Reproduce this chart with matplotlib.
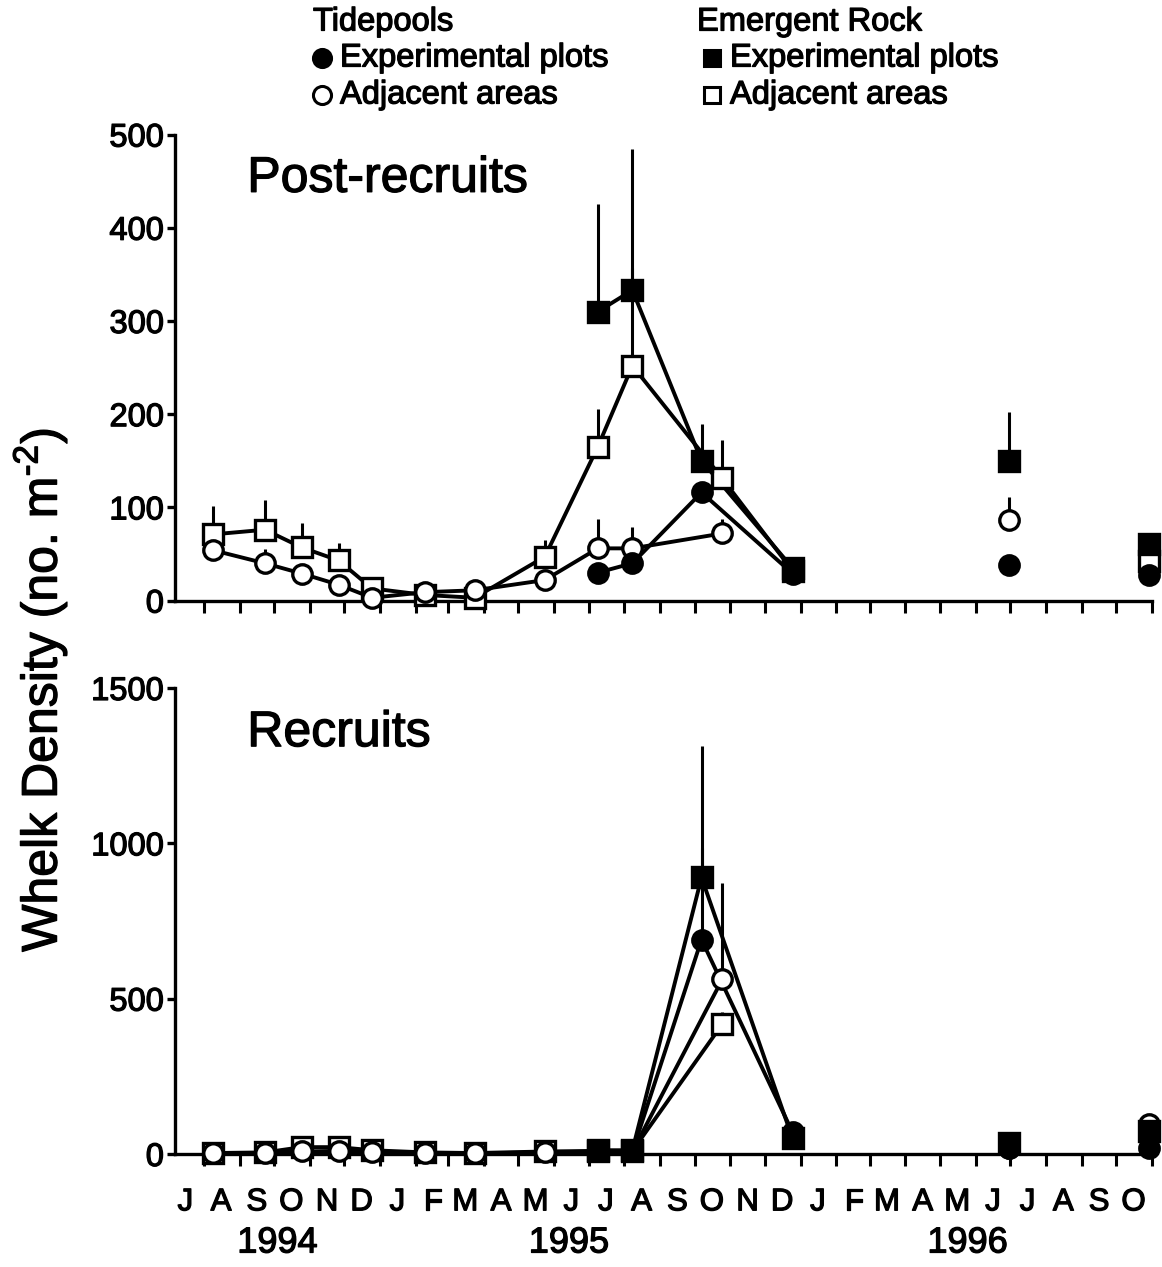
import numpy as np
import matplotlib
matplotlib.use('Agg')
from matplotlib import pyplot as plt
from matplotlib.lines import Line2D
from matplotlib.text import Text
import matplotlib.patheffects as pe
import matplotlib.dates as mdates
from datetime import datetime as dt

plt.rcParams['font.family'] = ['Liberation Sans', 'DejaVu Sans']
plt.rcParams['mathtext.fontset'] = 'custom'
plt.rcParams['mathtext.rm'] = 'Liberation Sans'

# Sampling dates (adjacent areas were sampled through the whole period,
# experimental plots only from July 1995)
adj_dates = [dt(1994, 8, 9), dt(1994, 9, 23), dt(1994, 10, 25), dt(1994, 11, 26),
             dt(1994, 12, 25), dt(1995, 2, 9), dt(1995, 3, 24), dt(1995, 5, 24),
             dt(1995, 7, 9), dt(1995, 8, 8), dt(1995, 10, 25), dt(1995, 12, 25),
             dt(1996, 6, 30), dt(1996, 10, 29)]
exp_dates = [dt(1995, 7, 9), dt(1995, 8, 8), dt(1995, 10, 7), dt(1995, 12, 25),
             dt(1996, 6, 30), dt(1996, 10, 29)]
nan = np.nan

# Post-recruits (no. m-2): mean and upper error bar end
post_rock_adj = [71, 76, 57, 43, 13, 6, 3, 47, 165, 252, 131, 32, nan, 42]
post_rock_adj_top = [101, 108, 83, 62, nan, nan, nan, 65, 206, 357, 172, nan, nan, nan]
post_pool_adj = [54, 40, 29, 17, 3, 9, 11, 22, 56, 56, 72, nan, 86, nan]
post_pool_adj_top = [nan, 55, nan, nan, nan, nan, nan, nan, 88, 79, 88, nan, 111, nan]
post_rock_exp = [310, 333, 150, 35, 150, 61]
post_rock_exp_top = [426, 485, 189, nan, 202, nan]
post_pool_exp = [30, 40, 116, 29, 38, 27]
post_pool_exp_top = [nan, nan, nan, nan, nan, nan]

# Recruits (no. m-2)
rec_rock_adj = [3, 5, 22, 22, 12, 5, 3, 8, 10, 10, 418, nan, nan, nan]
rec_rock_adj_top = [nan, nan, nan, nan, nan, nan, nan, nan, nan, nan, 457, nan, nan, nan]
rec_pool_adj = [2, 3, 8, 10, 5, 3, 2, 5, 8, 8, 562, nan, 20, 95]
rec_pool_adj_top = [nan, nan, nan, nan, nan, nan, nan, nan, nan, nan, 873, nan, nan, nan]
rec_rock_exp = [12, 12, 890, 50, 35, 75]
rec_rock_exp_top = [nan, nan, 1312, nan, nan, nan]
rec_pool_exp = [8, 8, 690, 70, 20, 20]
rec_pool_exp_top = [nan, nan, 986, nan, nan, nan]

month_letters = ['J', 'A', 'S', 'O', 'N', 'D', 'J', 'F', 'M', 'A', 'M', 'J', 'J', 'A',
                 'S', 'O', 'N', 'D', 'J', 'F', 'M', 'A', 'M', 'J', 'J', 'A', 'S', 'O']
years = ['1994', '1995', '1996']

# lines join samples up to the end of 1995 only
line_end = dt(1995, 12, 31)


def plot_series(ax, dates, values, tops, marker, filled, ms):
    x = mdates.date2num(dates)
    y = np.array(values, dtype=float)
    top = np.array(tops, dtype=float)
    ok = ~np.isnan(top)
    ax.vlines(x[ok], y[ok], top[ok], color='black', lw=2.2, zorder=2)
    joined = x <= mdates.date2num(line_end)
    ax.plot(x[joined], y[joined], color='black', lw=2.8, zorder=3)
    ax.plot(x, y, ls='none', marker=marker, ms=ms,
            mfc='black' if filled else 'white', mec='black', mew=2.4,
            zorder=4, clip_on=False)


def style_axis(ax, ymax, step, labels_on):
    ax.set_xlim(dt(1994, 7, 7), dt(1996, 11, 1))
    ax.set_ylim(0, ymax)
    ax.set_yticks(np.arange(0, ymax + 1, step))
    for side in ['top', 'right']:
        ax.spines[side].set_visible(False)
    for side in ['left', 'bottom']:
        ax.spines[side].set_linewidth(2.4)
    ax.xaxis.set_major_locator(mdates.MonthLocator())
    ax.xaxis.set_major_formatter(plt.NullFormatter())
    ax.tick_params(axis='x', which='major', direction='out', length=8.5, width=2.2)
    ax.tick_params(axis='y', which='major', direction='out', length=6, width=2.4,
                   labelsize=23.5, pad=2)
    if labels_on:
        # one letter in the middle of each month
        mids = [mdates.date2num(dt(1994 + (6 + i) // 12, (6 + i) % 12 + 1, 16))
                for i in range(len(month_letters))]
        ax.set_xticks(mids, minor=True)
        ax.set_xticklabels(month_letters, minor=True)
        ax.tick_params(axis='x', which='minor', length=0, labelsize=22.5, pad=24)
    else:
        ax.tick_params(axis='x', which='minor', length=0)


fig = plt.figure(figsize=(11.62, 12.67), dpi=100)
ax_top = fig.add_axes([0.1506, 0.526, 0.8408, 0.3678])
ax_bot = fig.add_axes([0.1506, 0.0892, 0.8408, 0.3678])

plot_series(ax_top, adj_dates, post_rock_adj, post_rock_adj_top, 's', False, 15)
plot_series(ax_top, adj_dates, post_pool_adj, post_pool_adj_top, 'o', False, 14)
plot_series(ax_top, exp_dates, post_pool_exp, post_pool_exp_top, 'o', True, 14)
plot_series(ax_top, exp_dates, post_rock_exp, post_rock_exp_top, 's', True, 15)

plot_series(ax_bot, adj_dates, rec_rock_adj, rec_rock_adj_top, 's', False, 15)
plot_series(ax_bot, adj_dates, rec_pool_adj, rec_pool_adj_top, 'o', False, 14)
plot_series(ax_bot, exp_dates, rec_pool_exp, rec_pool_exp_top, 'o', True, 14)
plot_series(ax_bot, exp_dates, rec_rock_exp, rec_rock_exp_top, 's', True, 15)

style_axis(ax_top, 500, 100, False)
style_axis(ax_bot, 1500, 500, True)

ax_top.text(0.074, 0.905, 'Post-recruits', transform=ax_top.transAxes,
            fontsize=36, ha='left', va='center')
ax_bot.text(0.074, 0.903, 'Recruits', transform=ax_bot.transAxes,
            fontsize=36, ha='left', va='center')

# year labels under the month letters
year_pos = [dt(1994, 10, 4), dt(1995, 6, 14), dt(1996, 5, 25)]
for yr, pos in zip(years, year_pos):
    ax_bot.text(mdates.date2num(pos), -0.191, yr, fontsize=26, ha='center',
                va='center', transform=ax_bot.get_xaxis_transform())

fig.text(40 / 1162, 1 - 690 / 1267, r'Whelk Density (no. m$^{\text{-2}}$)', rotation=90,
         fontsize=36, ha='center', va='center')

# legend drawn by hand
leg_font = 23.5
fig.text(313 / 1162, 1 - 22 / 1267, 'Tidepools', fontsize=leg_font, va='center')
fig.text(697 / 1162, 1 - 22 / 1267, 'Emergent Rock', fontsize=leg_font, va='center')
entries = [(322, 58, 'o', True, 340), (322, 95, 'o', False, 340),
           (712, 58, 's', True, 730), (712, 95, 's', False, 730)]
for mx, my, mk, filled, tx in entries:
    fig.add_artist(Line2D([mx / 1162], [1 - my / 1267], transform=fig.transFigure,
                          marker=mk, ms=13 if mk == 'o' else 12,
                          mfc='black' if filled else 'white', mec='black', mew=2.2))
    fig.text(tx / 1162, 1 - my / 1267,
             'Experimental plots' if filled else 'Adjacent areas',
             fontsize=leg_font, va='center')

# the printed figure has slightly heavier type than plain Liberation Sans
for txt in fig.findobj(Text):
    txt.set_path_effects([pe.withStroke(linewidth=0.9, foreground='black')])

fig.savefig('out.png', dpi=100)
